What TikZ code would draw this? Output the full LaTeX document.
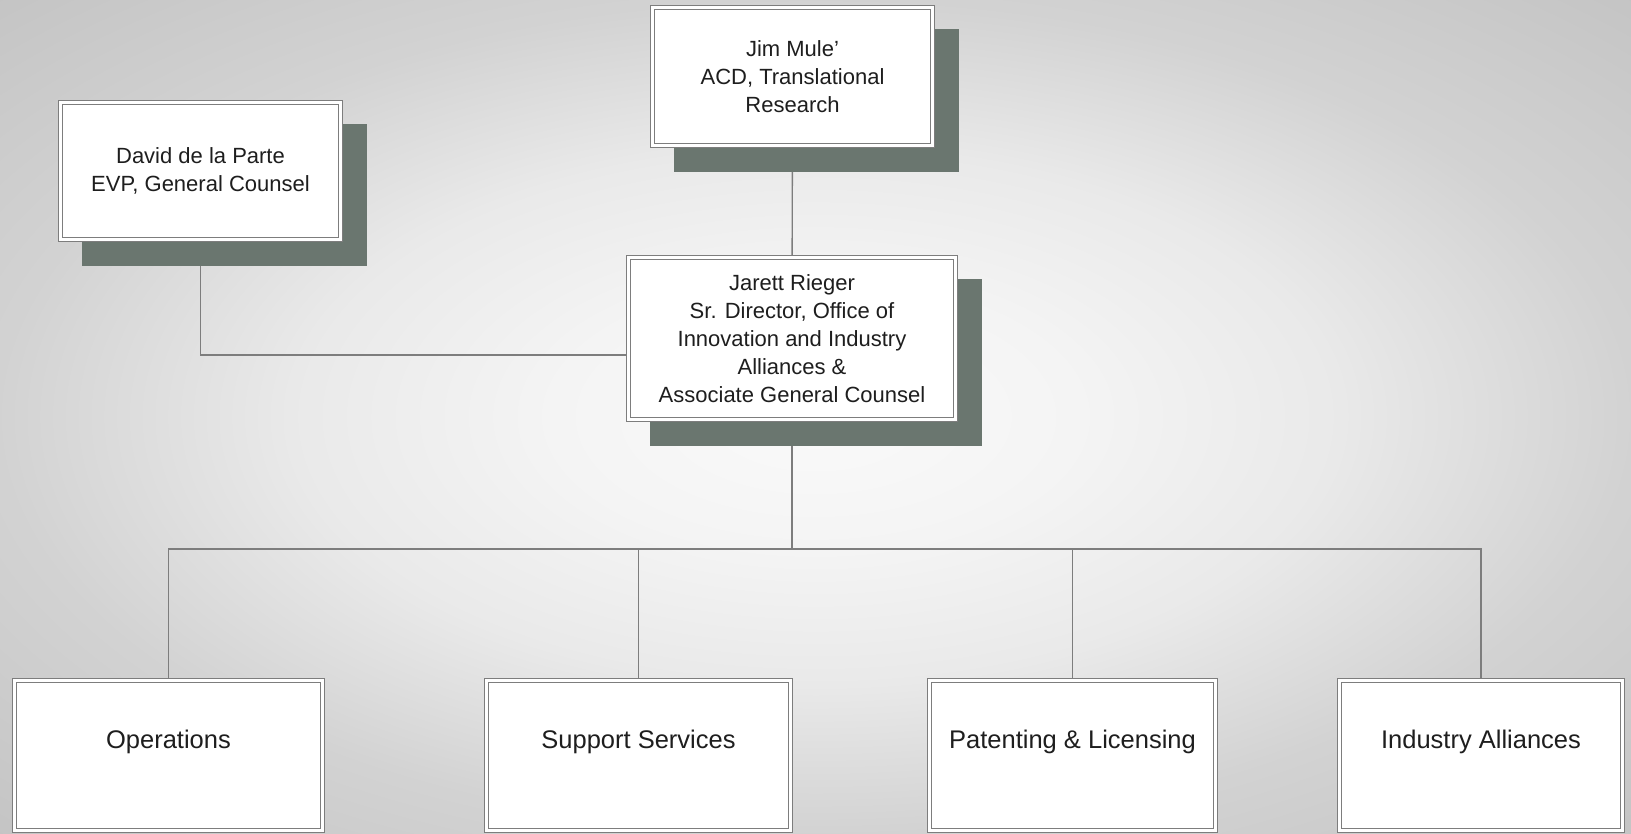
\documentclass[tikz,border=0pt]{standalone}
\usepackage{fontspec}
\setmainfont{Liberation Sans}
\usetikzlibrary{shadows}
\definecolor{shadowc}{RGB}{106,118,111}
\definecolor{linec}{RGB}{125,125,125}
\definecolor{txtc}{RGB}{30,30,30}
\pgfdeclareradialshading{bgshade}{\pgfpoint{0bp}{0bp}}{rgb(0bp)=(0.98,0.98,0.98); rgb(8bp)=(0.957,0.957,0.957); rgb(16bp)=(0.915,0.915,0.915); rgb(25bp)=(0.825,0.825,0.825); rgb(35.4bp)=(0.77,0.77,0.77); rgb(50bp)=(0.77,0.77,0.77)}
\pgfdeclarelayer{back}
\pgfdeclarelayer{bg}
\pgfsetlayers{back,bg,main}
\tikzset{
  boxbase/.style={draw=linec, double=white, double distance=3pt, line width=1pt,
    fill=white, inner sep=0pt, text=txtc},
  topbox/.style={boxbase, align=center, font=\fontsize{22}{28}\selectfont,
    drop shadow={shadow xshift=24pt, shadow yshift=-24pt, opacity=1, fill=shadowc,
      draw=shadowc, line width=5pt}},
  leaf/.style={boxbase, font=\fontsize{25.5}{30}\selectfont, text height=18pt, text depth=31pt,
    minimum height=149.5pt},
  conn/.style={draw=linec, line width=1.4pt}
}
\begin{document}
\begin{tikzpicture}[x=1pt,y=-1pt]
\useasboundingbox (0,0) rectangle (1631,833);
\begin{pgfonlayer}{back}
  \shade[shading=bgshade] (0,0) rectangle (1631,833);
\end{pgfonlayer}

\node[topbox, minimum width=280pt, minimum height=138pt] (jim) at (792.5,76.5)
  {Jim Mule'\\ACD, Translational\\Research};
\node[topbox, minimum width=280pt, minimum height=137pt] (david) at (200.5,171)
  {David de la Parte\\EVP, General Counsel};
\node[topbox, minimum width=327pt, minimum height=162pt] (jarett) at (792,338.5)
  {Jarett Rieger\\Sr. Director, Office of\\Innovation and Industry\\Alliances \&\\Associate General Counsel};

\node[leaf, minimum width=308pt] (ops) at (168.5,755.25) {Operations};
\node[leaf, minimum width=304pt] (sup) at (638.5,755.25) {Support Services};
\node[leaf, minimum width=286pt] (pat) at (1072.5,755.25) {Patenting \& Licensing};
\node[leaf, minimum width=283pt] (ind) at (1481,755.25) {Industry Alliances};

\coordinate (dj) at (628.5,355);
\coordinate (bus) at (792,549);
\begin{pgfonlayer}{bg}
  \draw[conn] (jim) -- (jarett);
  \draw[conn] (david) |- (dj);
  \draw[conn] (jarett) -- (bus);
  \draw[conn] (bus) -| (ops);
  \draw[conn] (bus) -| (sup);
  \draw[conn] (bus) -| (pat);
  \draw[conn] (bus) -| (ind);
\end{pgfonlayer}
\end{tikzpicture}
\end{document}
